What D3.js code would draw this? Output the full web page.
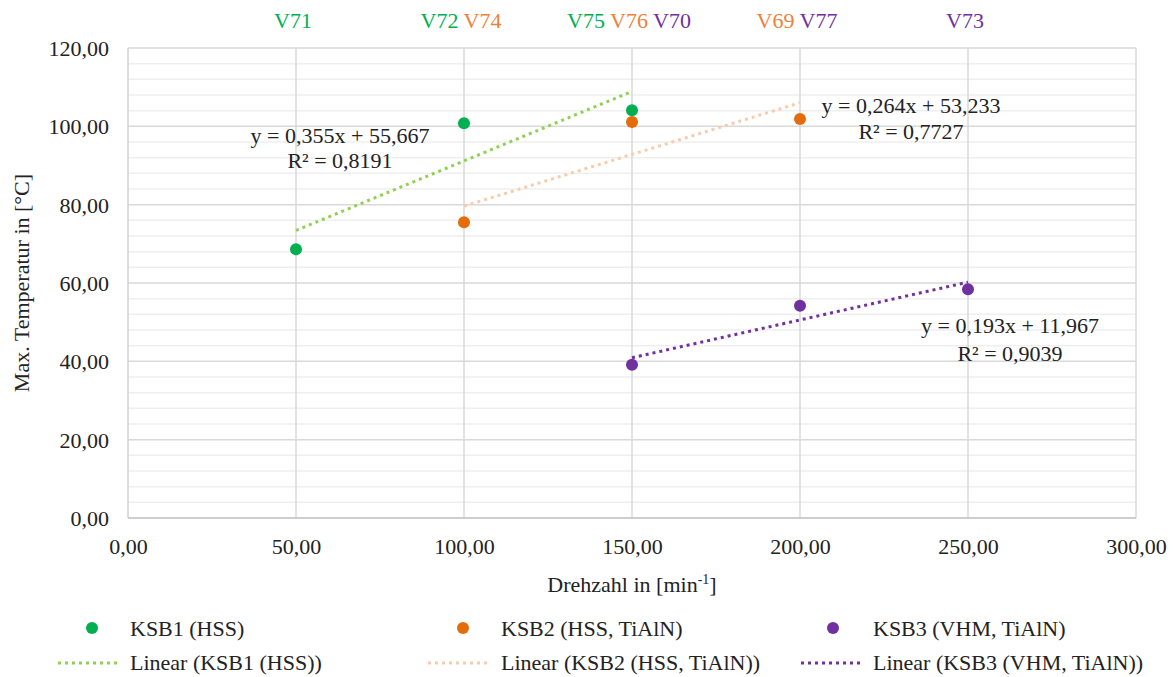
<!DOCTYPE html>
<html>
<head>
<meta charset="utf-8">
<script src="https://cdn.jsdelivr.net/npm/d3@7"></script>
<style>
  html, body { margin: 0; padding: 0; background: #fff; }
</style>
</head>
<body>
<svg id="chart" width="1173" height="677"></svg>
<script>
// Measured maximum temperature per spindle speed, one series per tool
const seriesNames = ["KSB1 (HSS)", "KSB2 (HSS, TiAlN)", "KSB3 (VHM, TiAlN)"];
const ksb1X = [50, 100, 150];
const ksb1Y = [68.6, 100.8, 104.1];
const ksb2X = [100, 150, 200];
const ksb2Y = [75.5, 101.1, 101.9];
const ksb3X = [150, 200, 250];
const ksb3Y = [39.1, 54.2, 58.4];

// Linear trend coefficients (y = slope * x + intercept) and R²
const trendSlope = [0.355, 0.264, 0.193];
const trendIntercept = [55.667, 53.233, 11.967];
const trendR2 = [0.8191, 0.7727, 0.9039];

// Test run ids above each speed, with the series they belong to
const runX = [50, 100, 100, 150, 150, 150, 200, 200, 250];
const runLabel = ["V71", "V72", "V74", "V75", "V76", "V70", "V69", "V77", "V73"];
const runSeries = [0, 0, 1, 0, 1, 2, 1, 2, 2];

// Axis ticks
const xTicks = [0, 50, 100, 150, 200, 250, 300];
const yTicks = [0, 20, 40, 60, 80, 100, 120];

const dotColors = ["#00b050", "#e46c0a", "#7030a0"];
const trendColors = ["#92d050", "#f8cbad", "#7030a0"];
const runColors = ["#00b050", "#f07f3a", "#7030a0"];

const FONT = "'Liberation Serif'";
const FS = 22;

const de = d3.formatLocale({ decimal: ",", thousands: ".", grouping: [3], currency: ["", " €"] });
const f2 = de.format(".2f"), f3 = de.format(".3f"), f4 = de.format(".4f");

const svg = d3.select("#chart");
const m = { left: 128, right: 1136, top: 48, bottom: 518 };

const x = d3.scaleLinear().domain([0, 300]).range([m.left, m.right]);
const y = d3.scaleLinear().domain([0, 120]).range([m.bottom, m.top]);

const series = [
  { xs: ksb1X, ys: ksb1Y },
  { xs: ksb2X, ys: ksb2Y },
  { xs: ksb3X, ys: ksb3Y }
].map((s, i) => ({
  name: seriesNames[i],
  points: s.xs.map((v, j) => ({ x: v, y: s.ys[j] })),
  slope: trendSlope[i], intercept: trendIntercept[i], r2: trendR2[i]
}));

// Minor horizontal gridlines every 4 units
const grid = svg.append("g");
grid.selectAll("line.minor")
  .data(d3.range(0, 121, 4).filter(v => v % 20 !== 0))
  .join("line").attr("class", "minor")
  .attr("x1", m.left).attr("x2", m.right)
  .attr("y1", d => y(d)).attr("y2", d => y(d))
  .attr("stroke", "#efefef").attr("stroke-width", 1.5);

// Major gridlines
grid.selectAll("line.hmaj")
  .data(yTicks.filter(v => v > 0))
  .join("line").attr("class", "hmaj")
  .attr("x1", m.left).attr("x2", m.right)
  .attr("y1", d => y(d)).attr("y2", d => y(d))
  .attr("stroke", "#d9d9d9").attr("stroke-width", 1.5);

grid.selectAll("line.vmaj")
  .data(xTicks.filter(v => v > 0))
  .join("line").attr("class", "vmaj")
  .attr("x1", d => x(d)).attr("x2", d => x(d))
  .attr("y1", m.top).attr("y2", m.bottom)
  .attr("stroke", "#d9d9d9").attr("stroke-width", 1.5);

// Left axis line and bottom axis line
grid.append("line")
  .attr("x1", m.left).attr("x2", m.left).attr("y1", m.top).attr("y2", m.bottom)
  .attr("stroke", "#d0d0d0").attr("stroke-width", 1.5);
grid.append("line")
  .attr("x1", m.left).attr("x2", m.right).attr("y1", m.bottom).attr("y2", m.bottom)
  .attr("stroke", "#bfbfbf").attr("stroke-width", 1.5);

// Axes (tick labels only)
const yAxis = svg.append("g")
  .attr("transform", `translate(${m.left - 19},0)`)
  .call(d3.axisLeft(y).tickValues(yTicks).tickFormat(f2).tickSize(0).tickPadding(0));
const xAxis = svg.append("g")
  .attr("transform", `translate(0,${m.bottom + 20})`)
  .call(d3.axisBottom(x).tickValues(xTicks).tickFormat(f2).tickSize(0).tickPadding(0));
[yAxis, xAxis].forEach(a => {
  a.attr("font-family", null).attr("font-size", null);
  a.select(".domain").remove();
  a.selectAll("text").attr("font-size", FS).attr("fill", "#222");
});
yAxis.selectAll("text").attr("dy", "0.34em");
xAxis.selectAll("text").attr("dy", "0.74em");

// Axis titles
svg.append("text")
  .attr("transform", `translate(29,${(m.top + m.bottom) / 2}) rotate(-90)`)
  .attr("text-anchor", "middle")
  .attr("font-size", 22).attr("fill", "#222")
  .text("Max. Temperatur in [°C]");

const xt = svg.append("text")
  .attr("x", (m.left + m.right) / 2).attr("y", 592)
  .attr("text-anchor", "middle")
  .attr("font-size", 22).attr("fill", "#222");
xt.append("tspan").text("Drehzahl in [min");
xt.append("tspan").attr("font-size", 14).attr("dy", -8).text("-1");
xt.append("tspan").attr("dy", 8).text("]");

// Trend lines drawn from the fitted coefficients over each series' range
const trend = svg.append("g");
series.forEach((s, i) => {
  const [x0, x1] = d3.extent(s.points, p => p.x);
  trend.append("line")
    .attr("x1", x(x0)).attr("y1", y(s.slope * x0 + s.intercept))
    .attr("x2", x(x1)).attr("y2", y(s.slope * x1 + s.intercept))
    .attr("stroke", trendColors[i]).attr("stroke-width", 3)
    .attr("stroke-dasharray", "3 4");
});

// Data points
series.forEach((s, i) => {
  svg.append("g").selectAll("circle")
    .data(s.points).join("circle")
    .attr("cx", d => x(d.x)).attr("cy", d => y(d.y)).attr("r", 6)
    .attr("fill", dotColors[i]);
});

// Trend equations
const eqPos = [
  { cx: 340, y1: 143, y2: 168 },
  { cx: 911, y1: 113, y2: 139 },
  { cx: 1010, y1: 333, y2: 361 }
];
series.forEach((s, i) => {
  const g = svg.append("g").attr("font-size", FS)
    .attr("fill", "#222").attr("text-anchor", "middle");
  g.append("text").attr("x", eqPos[i].cx).attr("y", eqPos[i].y1)
    .text(`y = ${f3(s.slope)}x + ${f3(s.intercept)}`);
  g.append("text").attr("x", eqPos[i].cx).attr("y", eqPos[i].y2)
    .text(`R² = ${f4(s.r2)}`);
});

// Run ids above the plot, grouped per speed
const runGroups = d3.groups(runLabel.map((t, i) => ({ t, x: runX[i], s: runSeries[i] })), d => d.x);
runGroups.forEach(([xv, items]) => {
  const t = svg.append("text")
    .attr("x", x(xv) - 3).attr("y", 28)
    .attr("text-anchor", "middle").attr("font-size", FS);
  items.forEach((it, k) => {
    t.append("tspan").attr("fill", runColors[it.s]).text((k > 0 ? " " : "") + it.t);
  });
});

// Legend
const legX = [
  { dot: 92, l0: 58, l1: 120, tx: 130 },
  { dot: 463, l0: 428, l1: 490, tx: 501 },
  { dot: 833, l0: 801, l1: 863, tx: 873 }
];
const leg = svg.append("g").attr("font-size", FS).attr("fill", "#222");
series.forEach((s, i) => {
  const p = legX[i];
  leg.append("circle").attr("cx", p.dot).attr("cy", 628).attr("r", 6).attr("fill", dotColors[i]);
  leg.append("text").attr("x", p.tx).attr("y", 636).text(s.name);
  leg.append("line").attr("x1", p.l0).attr("x2", p.l1).attr("y1", 663).attr("y2", 663)
    .attr("stroke", trendColors[i]).attr("stroke-width", 3).attr("stroke-dasharray", "3 4");
  leg.append("text").attr("x", p.tx).attr("y", 670).text(`Linear (${s.name})`);
});

// Serif face for every label
svg.selectAll("text").style("font-family", FONT);
</script>
</body>
</html>
